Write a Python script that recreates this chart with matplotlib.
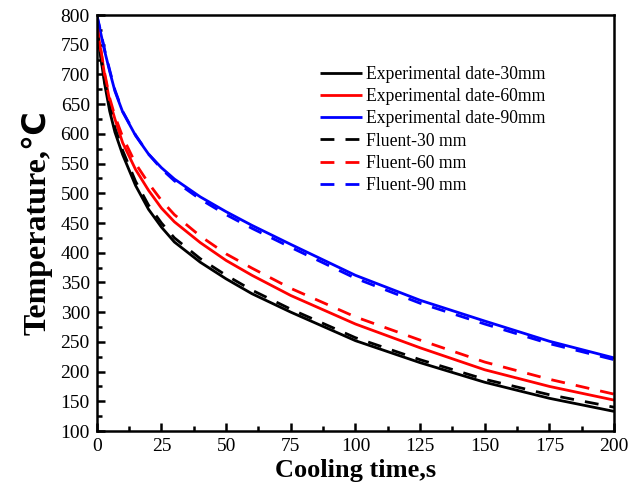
import matplotlib
matplotlib.use("Agg")
import matplotlib.pyplot as plt
from matplotlib.ticker import MultipleLocator

# ---- data ----
time_s = [0, 1, 2, 3, 5, 7, 10, 15, 20, 25, 30, 40, 50, 60, 75, 100, 125, 150, 175, 200]

exp_30 = [778, 745, 715, 685, 638, 603, 565, 513, 473, 443, 418, 384, 356, 331, 300, 252, 215, 182, 155, 133]
exp_60 = [783, 755, 728, 700, 655, 625, 585, 540, 505, 475, 452, 417, 387, 362, 328, 280, 240, 203, 175, 152]
exp_90 = [800, 780, 760, 740, 705, 672, 637, 597, 566, 543, 524, 494, 469, 446, 414, 362, 320, 285, 251, 223]

flu_30 = [780, 748, 718, 690, 645, 610, 572, 520, 480, 450, 425, 390, 362, 337, 305, 257, 220, 187, 161, 140]
flu_60 = [785, 757, 730, 703, 660, 630, 595, 550, 517, 488, 464, 428, 398, 374, 340, 292, 253, 216, 187, 162]
flu_90 = [800, 782, 762, 742, 707, 674, 638, 598, 566, 541, 521, 490, 464, 441, 409, 357, 315, 280, 247, 220]

labels = ["Experimental date-30mm", "Experimental date-60mm", "Experimental date-90mm",
          "Fluent-30 mm", "Fluent-60 mm", "Fluent-90 mm"]
colors = ["black", "red", "blue"]

plt.rcParams['font.family'] = ['Liberation Serif', 'DejaVu Sans']

fig = plt.figure(figsize=(6.41, 5.0), dpi=100)
ax = fig.add_axes([0.151, 0.138, 0.807, 0.832])

lw = 2.0
for y, c, lab in zip([exp_30, exp_60, exp_90], colors, labels[:3]):
    ax.plot(time_s, y, color=c, lw=lw, label=lab, solid_capstyle='butt', solid_joinstyle='round')
for y, c, lab in zip([flu_30, flu_60, flu_90], colors, labels[3:]):
    ax.plot(time_s, y, color=c, lw=lw, ls=(0, (5, 4)), label=lab, dash_capstyle='butt')

ax.set_xlim(0, 200)
ax.set_ylim(100, 800)
ax.xaxis.set_major_locator(MultipleLocator(25))
ax.xaxis.set_minor_locator(MultipleLocator(12.5))
ax.yaxis.set_major_locator(MultipleLocator(50))
ax.yaxis.set_minor_locator(MultipleLocator(25))

ax.tick_params(which='both', direction='in', top=False, right=False, width=1.8, labelsize=14)
ax.tick_params(which='major', length=6, pad=5)
ax.tick_params(which='minor', length=3.5)
for s in ax.spines.values():
    s.set_linewidth(1.8)

ax.set_xlabel("Cooling time,s", fontsize=19, fontweight='bold', labelpad=3)
ax.set_ylabel("Temperature,℃", fontsize=23, fontweight='bold', labelpad=6)

leg = ax.legend(loc='upper left', bbox_to_anchor=(0.431, 0.878), frameon=False,
                fontsize=12.7, handlelength=2.4, labelspacing=0.3, handletextpad=0.2,
                borderaxespad=0.0, borderpad=0.0)

fig.savefig("out.png", dpi=100)
